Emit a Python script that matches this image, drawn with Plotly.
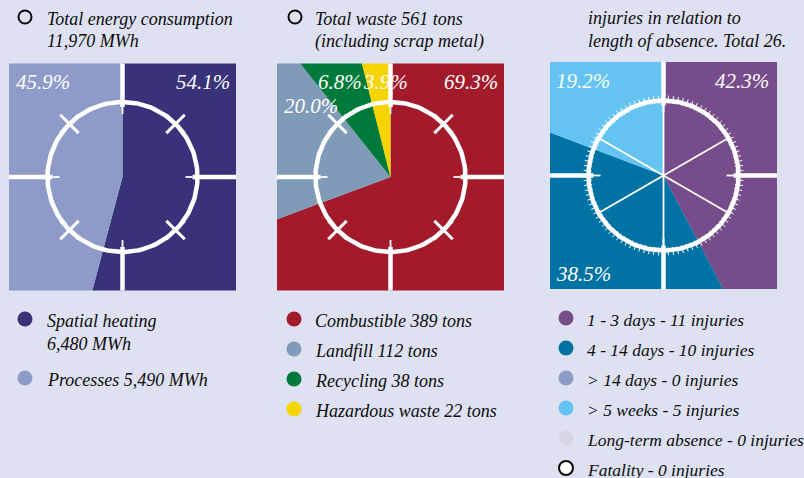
import math
import plotly.graph_objects as go

W, H = 804, 478
BG = "#dde1f1"
TXT = "#0d0d0d"
FONT = "Liberation Serif"

# ---------------- data ----------------
energy_labels = ["Spatial heating", "Processes"]
energy_values = [6480, 5490]
energy_colors = ["#37327a", "#8e9ac8"]

waste_labels = ["Combustible", "Landfill", "Recycling", "Hazardous waste"]
waste_values = [389, 112, 38, 22]
waste_colors = ["#a31b2a", "#809bb8", "#007a3a", "#f5d400"]

injury_labels = ["1 - 3 days", "4 - 14 days", "> 14 days", "> 5 weeks",
                 "Long-term absence", "Fatality"]
injury_values = [11, 10, 0, 5, 0, 0]
injury_colors = ["#764c8a", "#0072a3", "#8e9ac8", "#64c3f0", "#d8d6e6", "#ffffff"]

# ---------------- layout constants ----------------
HALF = 113.5          # half side of square pie
R = 75                # ornament circle radius
panels = [
    dict(cx=122.5, cy=177.0),
    dict(cx=390.5, cy=177.0),
    dict(cx=663.5, cy=175.5),
]
# percentage label positions (pixel) per slice
energy_lab_pos = [(203, 82), (43, 82)]
waste_lab_pos = [(471, 82), (311, 106), (340, 82), (385, 82)]
injury_lab_pos = {0: (742, 81), 1: (583, 274), 3: (583, 81)}

fig = go.Figure()
annotations = []


def square_point(cx, cy, h, a):
    s, c = math.sin(math.radians(a)), math.cos(math.radians(a))
    t = h / max(abs(s), abs(c))
    return cx + t * s, cy - t * c


def add_square_pie(cx, cy, values, colors):
    total = sum(values)
    start = 0.0
    for v, col in zip(values, colors):
        if v <= 0:
            continue
        end = start + 360.0 * v / total
        angs = [start] + [c for c in (45, 135, 225, 315) if start < c < end] + [end]
        xs, ys = [cx], [cy]
        for a in angs:
            x, y = square_point(cx, cy, HALF, a)
            xs.append(x)
            ys.append(y)
        xs.append(cx)
        ys.append(cy)
        fig.add_trace(go.Scatter(x=xs, y=ys, fill="toself", fillcolor=col, mode="lines",
                                 line=dict(width=0, color=col), hoverinfo="skip",
                                 showlegend=False))
        start = end


def lines_trace(segs, width):
    xs, ys = [], []
    for (x0, y0, x1, y1) in segs:
        xs += [x0, x1, None]
        ys += [y0, y1, None]
    fig.add_trace(go.Scatter(x=xs, y=ys, mode="lines",
                             line=dict(color="white", width=width),
                             hoverinfo="skip", showlegend=False))


def polar(cx, cy, r, a):
    return cx + r * math.sin(math.radians(a)), cy - r * math.cos(math.radians(a))


def add_ornament(cx, cy, kind):
    thick, thin = [], []
    for a in (0, 90, 180, 270):
        x0, y0 = polar(cx, cy, HALF, a)
        x1, y1 = polar(cx, cy, 70, a)
        x2, y2 = polar(cx, cy, 63, a)
        thick.append((x0, y0, x1, y1))
        thin.append((x1, y1, x2, y2))
    lines_trace(thick, 4.5)
    lines_trace(thin, 1.8)
    if kind == "cross":
        xs = []
        for a in (45, 135, 225, 315):
            px, py = polar(cx, cy, R, a)
            ax, ay = polar(0, 0, 13, a)
            xs.append((px - ax, py - ay, px + ax, py + ay))
            tx, ty = polar(0, 0, 13, a + 90)
            xs.append((px - tx, py - ty, px + tx, py + ty))
        lines_trace(xs, 3)
    else:
        spokes = []
        for a in (0, 60, 120, 180, 240, 300):
            x1, y1 = polar(cx, cy, R, a)
            spokes.append((cx, cy, x1, y1))
        lines_trace(spokes, 1.8)
        ticks = []
        for k in range(100):
            a = k * 3.6
            x0, y0 = polar(cx, cy, 72, a)
            x1, y1 = polar(cx, cy, 80, a)
            ticks.append((x0, y0, x1, y1))
        lines_trace(ticks, 1)
    n = 181
    cxs = [cx + R * math.sin(2 * math.pi * i / (n - 1)) for i in range(n)]
    cys = [cy - R * math.cos(2 * math.pi * i / (n - 1)) for i in range(n)]
    fig.add_trace(go.Scatter(x=cxs, y=cys, mode="lines",
                             line=dict(color="white", width=4.5),
                             hoverinfo="skip", showlegend=False))


def add_pct_labels(values, positions):
    total = sum(values)
    items = positions.items() if isinstance(positions, dict) else enumerate(positions)
    for i, (x, y) in items:
        annotations.append(dict(x=x, y=y, xref="x", yref="y", showarrow=False,
                                text=f"{100.0 * values[i] / total:.1f}%",
                                font=dict(family=FONT, size=21, color="white", style="italic"),
                                xanchor="center", yanchor="middle"))


def text_at(x, y, text, size=18):
    annotations.append(dict(x=x - 2, y=y, xref="x", yref="y", showarrow=False, text=text,
                            font=dict(family=FONT, size=size, color=TXT, style="italic"),
                            xanchor="left", yanchor="middle", align="left"))


def marker(x, y, color, size=15, line_color=None, line_width=0):
    fig.add_trace(go.Scatter(x=[x], y=[y], mode="markers",
                             marker=dict(size=size, color=color,
                                         line=dict(color=line_color or color, width=line_width)),
                             hoverinfo="skip", showlegend=False))


# ---------- panel 1 : energy ----------
p = panels[0]
add_square_pie(p["cx"], p["cy"], energy_values, energy_colors)
add_ornament(p["cx"], p["cy"], "cross")
add_pct_labels(energy_values, energy_lab_pos)

# ---------- panel 2 : waste ----------
p = panels[1]
add_square_pie(p["cx"], p["cy"], waste_values, waste_colors)
add_ornament(p["cx"], p["cy"], "cross")
add_pct_labels(waste_values, waste_lab_pos)

# ---------- panel 3 : injuries ----------
p = panels[2]
add_square_pie(p["cx"], p["cy"], injury_values, injury_colors)
add_ornament(p["cx"], p["cy"], "gauge")
add_pct_labels(injury_values, injury_lab_pos)

# ---------- titles ----------
marker(25, 17, BG, size=13, line_color=TXT, line_width=2)
text_at(47, 19, "Total energy consumption")
text_at(47, 41, f"{sum(energy_values):,} MWh")

marker(295, 17, BG, size=13, line_color=TXT, line_width=2)
text_at(315, 19, f"Total waste {sum(waste_values)} tons")
text_at(315, 41, "(including scrap metal)")

text_at(588, 18, "injuries in relation to")
text_at(588, 41, f"length of absence. Total {sum(injury_values)}.")

# ---------- legends ----------
marker(25, 319, energy_colors[0])
text_at(47, 321, energy_labels[0])
text_at(47, 344, f"{energy_values[0]:,} MWh")
marker(25, 378, energy_colors[1])
text_at(47, 380, f"{energy_labels[1]} {energy_values[1]:,} MWh")

for i, (lab, v, col) in enumerate(zip(waste_labels, waste_values, waste_colors)):
    y = 319 + 30 * i
    marker(294, y, col)
    text_at(315, y + 2, f"{lab} {v} tons")

for i, (lab, v, col) in enumerate(zip(injury_labels, injury_values, injury_colors)):
    y = 318 + 30 * i
    if col == "#ffffff":
        marker(566, y, col, size=14, line_color=TXT, line_width=2)
    else:
        marker(566, y, col)
    text_at(587, y + 2, f"{lab} - {v} injuries", size=17.5)

fig.update_layout(
    width=W, height=H,
    margin=dict(l=0, r=0, t=0, b=0),
    paper_bgcolor=BG, plot_bgcolor=BG,
    xaxis=dict(range=[0, W], visible=False, fixedrange=True),
    yaxis=dict(range=[H, 0], visible=False, fixedrange=True),
    annotations=annotations,
    showlegend=False,
)

fig.write_html(
    "out.html",
    config={"displayModeBar": False},
    post_script="document.body.style.margin='0';document.body.style.padding='0';"
                "document.body.style.overflow='hidden';"
                "document.body.style.background='" + BG + "';",
)
